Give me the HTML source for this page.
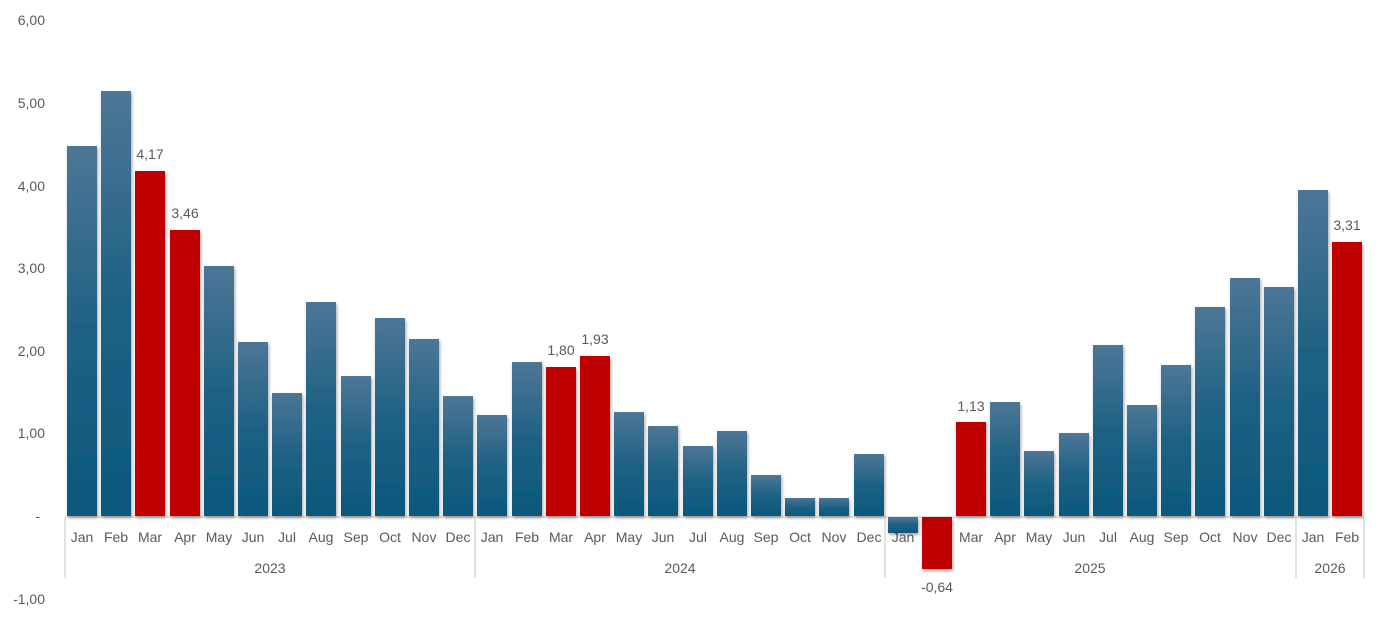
<!DOCTYPE html>
<html><head><meta charset="utf-8"><style>
html,body{margin:0;padding:0;background:#fff}
svg{display:block}
text{font-family:"Liberation Sans",sans-serif;fill:#595959;font-size:14px}
</style></head><body>
<svg width="1384" height="618" viewBox="0 0 1384 618" xmlns="http://www.w3.org/2000/svg">
<defs>
<linearGradient id="g" x1="0" y1="0" x2="0" y2="1"><stop offset="0" stop-color="#4d7696"/><stop offset="0.5" stop-color="#1e6184"/><stop offset="1" stop-color="#0b587c"/></linearGradient>
<filter id="s" x="-20%" y="-20%" width="140%" height="140%"><feDropShadow dx="1" dy="2" stdDeviation="1.5" flood-color="#000" flood-opacity="0.35"/></filter>
</defs>
<g text-anchor="end">
<text x="45" y="25">6,00</text><text x="45" y="108">5,00</text><text x="45" y="191">4,00</text><text x="45" y="273">3,00</text><text x="45" y="356">2,00</text><text x="45" y="438">1,00</text><text x="40" y="521">-</text><text x="45" y="604">-1,00</text>
</g>
<line x1="65" y1="517" x2="1364" y2="517" stroke="#d9d9d9" stroke-width="1.5"/>
<g stroke="#d9d9d9" stroke-width="1.5">
<line x1="65" y1="517" x2="65" y2="578"/><line x1="475" y1="517" x2="475" y2="578"/><line x1="885" y1="517" x2="885" y2="578"/><line x1="1296" y1="517" x2="1296" y2="578"/><line x1="1364" y1="517" x2="1364" y2="578"/>
</g>
<g text-anchor="middle">
<text x="82" y="542">Jan</text><text x="116" y="542">Feb</text><text x="150" y="542">Mar</text><text x="185" y="542">Apr</text><text x="219" y="542">May</text><text x="253" y="542">Jun</text><text x="287" y="542">Jul</text><text x="321" y="542">Aug</text><text x="356" y="542">Sep</text><text x="390" y="542">Oct</text><text x="424" y="542">Nov</text><text x="458" y="542">Dec</text>
<text x="492" y="542">Jan</text><text x="527" y="542">Feb</text><text x="561" y="542">Mar</text><text x="595" y="542">Apr</text><text x="629" y="542">May</text><text x="663" y="542">Jun</text><text x="698" y="542">Jul</text><text x="732" y="542">Aug</text><text x="766" y="542">Sep</text><text x="800" y="542">Oct</text><text x="834" y="542">Nov</text><text x="869" y="542">Dec</text>
<text x="903" y="542">Jan</text><text x="937" y="542">Feb</text><text x="971" y="542">Mar</text><text x="1005" y="542">Apr</text><text x="1039" y="542">May</text><text x="1074" y="542">Jun</text><text x="1108" y="542">Jul</text><text x="1142" y="542">Aug</text><text x="1176" y="542">Sep</text><text x="1210" y="542">Oct</text><text x="1245" y="542">Nov</text><text x="1279" y="542">Dec</text>
<text x="1313" y="542">Jan</text><text x="1347" y="542">Feb</text>
<text x="270" y="573">2023</text><text x="680" y="573">2024</text><text x="1090" y="573">2025</text><text x="1330" y="573">2026</text>
<text x="150" y="159">4,17</text><text x="185" y="218">3,46</text><text x="561" y="355">1,80</text><text x="595" y="344">1,93</text><text x="971" y="411">1,13</text><text x="1347" y="230">3,31</text><text x="937" y="592">-0,64</text>
</g>
<g filter="url(#s)">
<rect x="67" y="146" width="30" height="370" fill="url(#g)"/>
<rect x="101" y="91" width="30" height="425" fill="url(#g)"/>
<rect x="135" y="171" width="30" height="345" fill="#c00000"/>
<rect x="170" y="230" width="30" height="286" fill="#c00000"/>
<rect x="204" y="266" width="30" height="250" fill="url(#g)"/>
<rect x="238" y="342" width="30" height="174" fill="url(#g)"/>
<rect x="272" y="393" width="30" height="123" fill="url(#g)"/>
<rect x="306" y="302" width="30" height="214" fill="url(#g)"/>
<rect x="341" y="376" width="30" height="140" fill="url(#g)"/>
<rect x="375" y="318" width="30" height="198" fill="url(#g)"/>
<rect x="409" y="339" width="30" height="177" fill="url(#g)"/>
<rect x="443" y="396" width="30" height="120" fill="url(#g)"/>
<rect x="477" y="415" width="30" height="101" fill="url(#g)"/>
<rect x="512" y="362" width="30" height="154" fill="url(#g)"/>
<rect x="546" y="367" width="30" height="149" fill="#c00000"/>
<rect x="580" y="356" width="30" height="160" fill="#c00000"/>
<rect x="614" y="412" width="30" height="104" fill="url(#g)"/>
<rect x="648" y="426" width="30" height="90" fill="url(#g)"/>
<rect x="683" y="446" width="30" height="70" fill="url(#g)"/>
<rect x="717" y="431" width="30" height="85" fill="url(#g)"/>
<rect x="751" y="475" width="30" height="41" fill="url(#g)"/>
<rect x="785" y="498" width="30" height="18" fill="url(#g)"/>
<rect x="819" y="498" width="30" height="18" fill="url(#g)"/>
<rect x="854" y="454" width="30" height="62" fill="url(#g)"/>
<rect x="888" y="517" width="30" height="16" fill="url(#g)"/>
<rect x="922" y="517" width="30" height="52" fill="#c00000"/>
<rect x="956" y="422" width="30" height="94" fill="#c00000"/>
<rect x="990" y="402" width="30" height="114" fill="url(#g)"/>
<rect x="1024" y="451" width="30" height="65" fill="url(#g)"/>
<rect x="1059" y="433" width="30" height="83" fill="url(#g)"/>
<rect x="1093" y="345" width="30" height="171" fill="url(#g)"/>
<rect x="1127" y="405" width="30" height="111" fill="url(#g)"/>
<rect x="1161" y="365" width="30" height="151" fill="url(#g)"/>
<rect x="1195" y="307" width="30" height="209" fill="url(#g)"/>
<rect x="1230" y="278" width="30" height="238" fill="url(#g)"/>
<rect x="1264" y="287" width="30" height="229" fill="url(#g)"/>
<rect x="1298" y="190" width="30" height="326" fill="url(#g)"/>
<rect x="1332" y="242" width="30" height="274" fill="#c00000"/>
</g>
</svg>
</body></html>
